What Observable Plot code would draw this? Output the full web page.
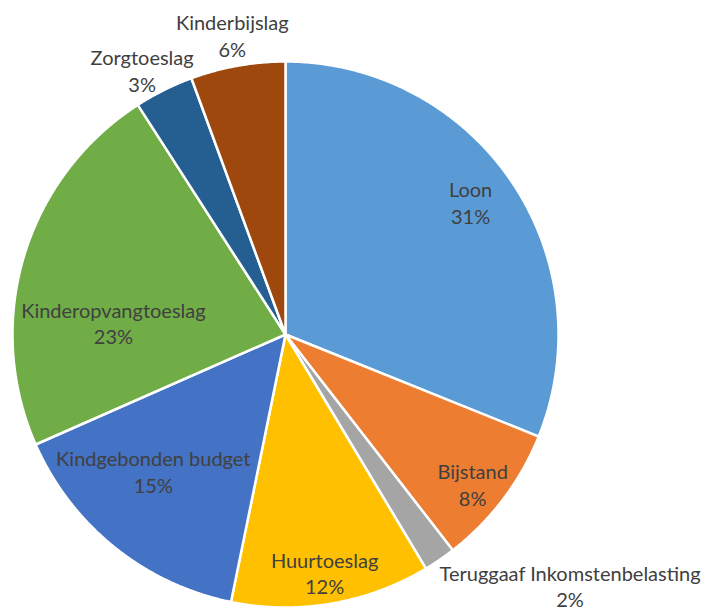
<!DOCTYPE html>
<html><head><meta charset="utf-8">
<script src="https://cdn.jsdelivr.net/npm/d3@7"></script>
<script src="https://cdn.jsdelivr.net/npm/@observablehq/plot@0.6"></script>
<style>html,body{margin:0;padding:0;background:#fff;overflow:hidden;} #chart{width:708px;height:614px;}</style>
</head><body><div id="chart"></div>
<script>
// Data (percent shares, clockwise from 12 o'clock)
const categories = ["Loon", "Bijstand", "Teruggaaf Inkomstenbelasting", "Huurtoeslag", "Kindgebonden budget", "Kinderopvangtoeslag", "Zorgtoeslag", "Kinderbijslag"];
const values = [31.1, 8.4, 1.9, 11.8, 15.2, 22.5, 3.5, 5.6];
const pctLabels = ["31%", "8%", "2%", "12%", "15%", "23%", "3%", "6%"];
const colors = ["#5B9BD5", "#ED7D31", "#A5A5A5", "#FFC000", "#4472C4", "#70AD47", "#255E91", "#9E480E"];

// Label placement (layout): angular nudge in degrees and radius as a fraction of the pie radius
const labelAngleShift = [-1.6, 1.5, -14.2, 0.4, 5.2, -12.7, -2.0, 0.0];
const labelRadius = [0.834, 0.877, 1.39, 0.884, 0.696, 0.632, 1.102, 1.114];

const arcs = d3.pie().sort(null).value(d => d)(values);

const slicePoints = [];
arcs.forEach((a, i) => {
  const cat = categories[i];
  slicePoints.push({cat, x: 0, y: 0});
  const n = Math.max(2, Math.ceil((a.endAngle - a.startAngle) / 0.004));
  for (let k = 0; k <= n; k++) {
    const t = a.startAngle + (a.endAngle - a.startAngle) * k / n;
    slicePoints.push({cat, x: Math.sin(t), y: Math.cos(t)});
  }
  slicePoints.push({cat, x: 0, y: 0});
});

const labels = arcs.map((a, i) => {
  const mid = (a.startAngle + a.endAngle) / 2 + labelAngleShift[i] * Math.PI / 180;
  const r = labelRadius[i];
  return {cat: categories[i], x: r * Math.sin(mid), y: r * Math.cos(mid), text: categories[i] + "\n" + pctLabels[i]};
});

const chart = Plot.plot({
  width: 708,
  height: 614,
  margin: 0,
  style: {fontFamily: "Lato, 'Open Sans', sans-serif", background: "#ffffff"},
  x: {domain: [-1, 1], range: [12, 558], axis: null},
  y: {domain: [-1, 1], range: [607, 61], axis: null},
  color: {domain: categories, range: colors},
  marks: [
    Plot.line(slicePoints, {x: "x", y: "y", z: "cat", fill: "cat", stroke: "#ffffff", strokeWidth: 2.5, strokeLinejoin: "round", curve: "linear"}),
    Plot.text(labels, {x: "x", y: "y", text: "text", fill: "#404040", fontSize: 20, lineHeight: 1.33, lineAnchor: "middle", textAnchor: "middle", fontFamily: "Lato"})
  ]
});
document.getElementById("chart").appendChild(chart);
</script>
</body></html>
